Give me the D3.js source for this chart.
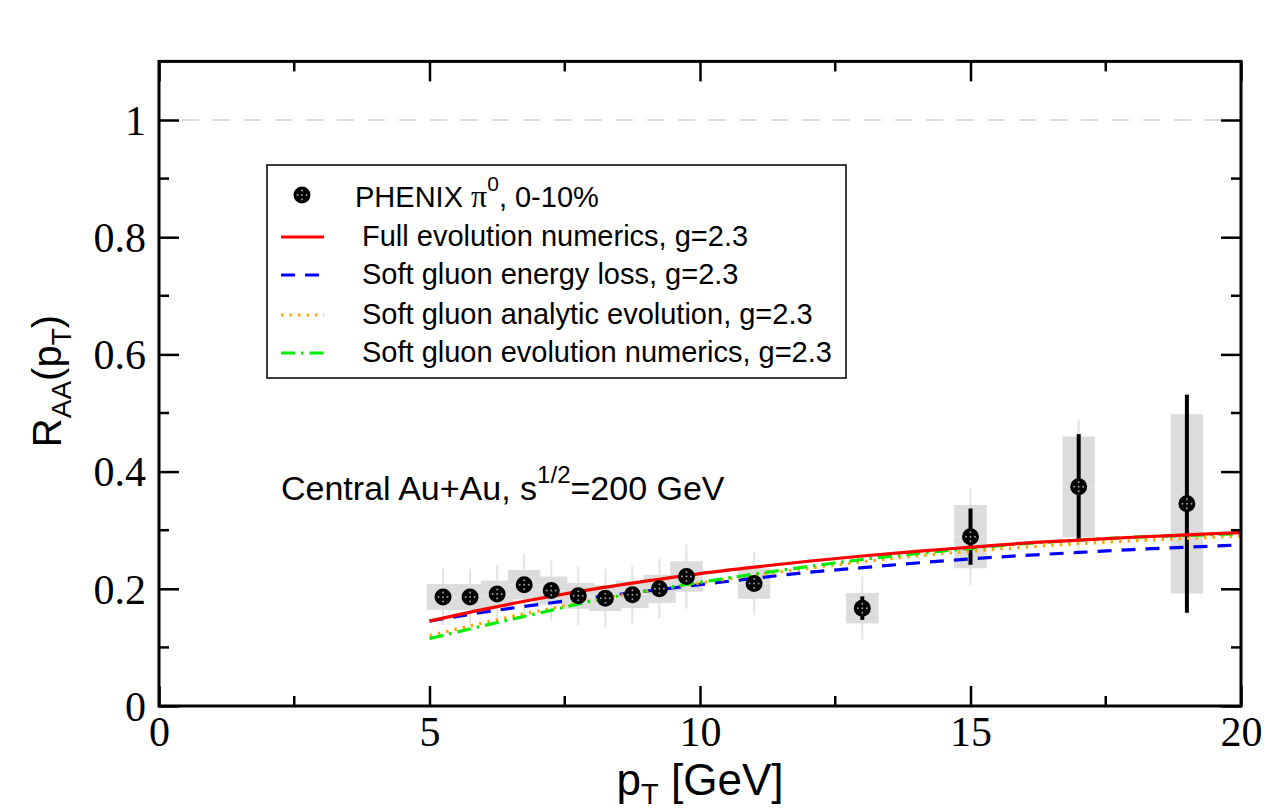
<!DOCTYPE html>
<html><head><meta charset="utf-8">
<script src="https://cdn.jsdelivr.net/npm/d3@7"></script>
<style>body{margin:0;background:#fff}svg{display:block}</style>
</head><body>
<svg id="c" width="1268" height="809"></svg>
<script>
// ---- data ----
const ptData   = [5.25,5.75,6.25,6.75,7.25,7.75,8.25,8.75,9.25,9.75,11,13,15,17,19];
const raaData  = [0.186,0.186,0.191,0.207,0.197,0.188,0.184,0.190,0.200,0.221,0.209,0.167,0.289,0.374,0.345];
const statErr  = [0.006,0.006,0.006,0.006,0.006,0.006,0.006,0.006,0.006,0.007,0.008,0.020,0.048,0.090,0.186];
const sysErr   = [0.022,0.022,0.023,0.025,0.024,0.022,0.022,0.023,0.024,0.026,0.026,0.026,0.054,0.086,0.153];
const totErr   = [0.048,0.048,0.050,0.052,0.051,0.050,0.050,0.050,0.051,0.055,0.054,0.054,0.083,0.115,0.19];
const curveX   = [5,6,7,8,9,10,11,12,13,14,15,16,17,18,19,20];
const fullEvol = [0.145,0.165,0.183,0.199,0.213,0.226,0.237,0.247,0.256,0.264,0.271,0.278,0.283,0.288,0.292,0.296];
const softLoss = [0.145,0.160,0.173,0.185,0.196,0.207,0.218,0.228,0.236,0.244,0.251,0.257,0.262,0.267,0.271,0.275];
const softAnal = [0.120,0.142,0.162,0.180,0.196,0.210,0.223,0.235,0.246,0.256,0.264,0.271,0.277,0.282,0.286,0.290];
const softNum  = [0.115,0.137,0.158,0.179,0.196,0.211,0.225,0.238,0.250,0.260,0.269,0.277,0.283,0.288,0.291,0.294];
const xTicks = [0,5,10,15,20];
const yTicks = [0,0.2,0.4,0.6,0.8,1];
const yTickLabels = ["0","0.2","0.4","0.6","0.8","1"];
const legendLabels = ["Full evolution numerics, g=2.3","Soft gluon energy loss, g=2.3","Soft gluon analytic evolution, g=2.3","Soft gluon evolution numerics, g=2.3"];

// ---- layout ----
const svg = d3.select("#c");
const L=159,R=1241,T=61.4,B=706;
const x = d3.scaleLinear().domain([0,20]).range([L,R]);
const y = d3.scaleLinear().domain([0,1.1]).range([B,T]);
const serif = "'Liberation Serif','Times New Roman',serif";
const sans = "'Liberation Sans',Arial,Helvetica,sans-serif";

// reference line at 1
svg.append("line").attr("x1",x(0)).attr("x2",x(20)).attr("y1",y(1)).attr("y2",y(1))
  .attr("stroke","#dddddd").attr("stroke-width",2).attr("stroke-dasharray","17,14").attr("stroke-dashoffset",8);

// data error graphics
const pts = ptData.map((p,i)=>({p,v:raaData[i],s:statErr[i],sy:sysErr[i],t:totErr[i]}));
const g = svg.append("g");
g.selectAll("line.tot").data(pts).enter().append("line")
  .attr("x1",d=>x(d.p)).attr("x2",d=>x(d.p)).attr("y1",d=>y(d.v+d.t)).attr("y2",d=>y(d.v-d.t))
  .attr("stroke","#e4e4e4").attr("stroke-width",2);
g.selectAll("rect.sys").data(pts).enter().append("rect")
  .attr("x",d=>x(d.p-0.3)).attr("width",d=>x(d.p+0.3)-x(d.p-0.3))
  .attr("y",d=>y(d.v+d.sy)).attr("height",d=>y(d.v-d.sy)-y(d.v+d.sy))
  .attr("fill","#dcdcdc");
g.selectAll("line.mid").data(pts).enter().append("line")
  .attr("x1",d=>x(d.p-0.3)).attr("x2",d=>x(d.p+0.3)).attr("y1",d=>y(d.v)).attr("y2",d=>y(d.v))
  .attr("stroke","#e8e8e8").attr("stroke-width",1);

// curves
const line = d3.line().x(d=>x(d[0])).y(d=>y(d[1])).curve(d3.curveMonotoneX);
const curves = [
  {v:fullEvol,c:"#ff0000",dash:null},
  {v:softLoss,c:"#0000ff",dash:"14,10"},
  {v:softAnal,c:"#ffa500",dash:"2.5,6"},
  {v:softNum,c:"#00ee00",dash:"14,6,2.5,6"}
];
[1,2,3,0].forEach(i=>{
  const cv=curves[i];
  svg.append("path").attr("d",line(curveX.map((xx,j)=>[xx,cv.v[j]])))
    .attr("fill","none").attr("stroke",cv.c).attr("stroke-width",3.2)
    .attr("stroke-dasharray",cv.dash);
});

// stat error bars + markers
g.selectAll("line.stat").data(pts).enter().append("line")
  .attr("x1",d=>x(d.p)).attr("x2",d=>x(d.p)).attr("y1",d=>y(d.v+d.s)).attr("y2",d=>y(d.v-d.s))
  .attr("stroke","#000").attr("stroke-width",4);
function marker(sel){
  sel.append("circle").attr("r",8.5).attr("fill","#000");
  [[0,0],[0,-4.5],[0,4.5],[-4.5,0],[4.5,0]].forEach(o=>{
    sel.append("circle").attr("cx",o[0]).attr("cy",o[1]).attr("r",1).attr("fill","#9a9a9a");
  });
}
svg.selectAll("g.mk").data(pts).enter().append("g")
  .attr("transform",d=>`translate(${x(d.p)},${y(d.v)})`).each(function(){marker(d3.select(this));});

// frame and ticks
svg.append("rect").attr("x",L).attr("y",T).attr("width",R-L).attr("height",B-T)
  .attr("fill","none").attr("stroke","#000").attr("stroke-width",3);
const axB = d3.axisBottom(x).tickValues(xTicks).tickSizeInner(-20).tickSizeOuter(0).tickFormat(d3.format("d"));
const gb = svg.append("g").attr("transform",`translate(0,${B})`).call(axB);
gb.select(".domain").remove();
gb.selectAll(".tick line").attr("stroke-width",2.5);
gb.selectAll(".tick text").attr("y",40).attr("dy",0).style("font-family",serif).style("font-size","42px");
const axT = d3.axisTop(x).tickValues(xTicks).tickSizeInner(-20).tickSizeOuter(0).tickFormat("");
const gt = svg.append("g").attr("transform",`translate(0,${T})`).call(axT);
gt.select(".domain").remove(); gt.selectAll(".tick line").attr("stroke-width",2.5);
const xMinor = d3.range(2.5,20,5);
[B,T].forEach((yy,k)=>{
  svg.selectAll(null).data(xMinor).enter().append("line")
    .attr("x1",d=>x(d)).attr("x2",d=>x(d)).attr("y1",yy).attr("y2",k?yy+10:yy-10)
    .attr("stroke","#000").attr("stroke-width",2.5);
});
const axL = d3.axisLeft(y).tickValues(yTicks).tickSizeInner(-20).tickSizeOuter(0).tickFormat((d,i)=>yTickLabels[i]);
const gl = svg.append("g").attr("transform",`translate(${L},0)`).call(axL);
gl.select(".domain").remove(); gl.selectAll(".tick line").attr("stroke-width",2.5);
gl.selectAll(".tick text").attr("x",-13).attr("dy","0.34em").style("font-family",serif).style("font-size","42px");
const axR = d3.axisRight(y).tickValues(yTicks).tickSizeInner(-20).tickSizeOuter(0).tickFormat("");
const gr = svg.append("g").attr("transform",`translate(${R},0)`).call(axR);
gr.select(".domain").remove(); gr.selectAll(".tick line").attr("stroke-width",2.5);
const yMinor = d3.range(0.1,1.1,0.2);
[L,R].forEach((xx,k)=>{
  svg.selectAll(null).data(yMinor).enter().append("line")
    .attr("y1",d=>y(d)).attr("y2",d=>y(d)).attr("x1",xx).attr("x2",k?xx-10:xx+10)
    .attr("stroke","#000").attr("stroke-width",2.5);
});

// legend
const lg = svg.append("g");
lg.append("rect").attr("x",267).attr("y",165).attr("width",579).attr("height",213)
  .attr("fill","#fff").attr("stroke","#000").attr("stroke-width",1.5);
const m = lg.append("g").attr("transform","translate(302,195)"); marker(m);
const t0 = lg.append("text").attr("x",355).attr("y",207).style("font-family",sans).style("font-size","29px");
t0.append("tspan").text("PHENIX ");
t0.append("tspan").text("π").style("font-family",serif).style("font-size","32px");
t0.append("tspan").text("0").attr("dy",-16).style("font-size","21px");
t0.append("tspan").text(", 0-10%").attr("dy",16);
const rowsY=[237,275,315,353];
curves.forEach((cv,i)=>{
  lg.append("line").attr("x1",281).attr("x2",324).attr("y1",rowsY[i]).attr("y2",rowsY[i])
    .attr("stroke",cv.c).attr("stroke-width",3.2).attr("stroke-dasharray",cv.dash);
  lg.append("text").attr("x",362).attr("y",rowsY[i]+9).text(legendLabels[i])
    .style("font-family",sans).style("font-size","29px");
});

// annotation
const an = svg.append("text").attr("x",281).attr("y",500).style("font-family",sans).style("font-size","34px");
an.append("tspan").text("Central Au+Au, s");
an.append("tspan").text("1/2").attr("dy",-17).style("font-size","24px");
an.append("tspan").text("=200 GeV").attr("dy",17);

// axis titles
const xt = svg.append("text").attr("x",700).attr("y",795).attr("text-anchor","middle").style("font-family",sans).style("font-size","44px");
xt.append("tspan").text("p");
xt.append("tspan").text("T").attr("dy",9).style("font-size","29px");
xt.append("tspan").text(" [GeV]").attr("dy",-9);
const yt = svg.append("text").attr("transform","translate(61,381) rotate(-90)").attr("text-anchor","middle").style("font-family",sans).style("font-size","40px");
yt.append("tspan").text("R");
yt.append("tspan").text("AA").attr("dy",10).style("font-size","28px");
yt.append("tspan").text("(p").attr("dy",-10);
yt.append("tspan").text("T").attr("dy",10).style("font-size","28px");
yt.append("tspan").text(")").attr("dy",-10);
</script>
</body></html>
